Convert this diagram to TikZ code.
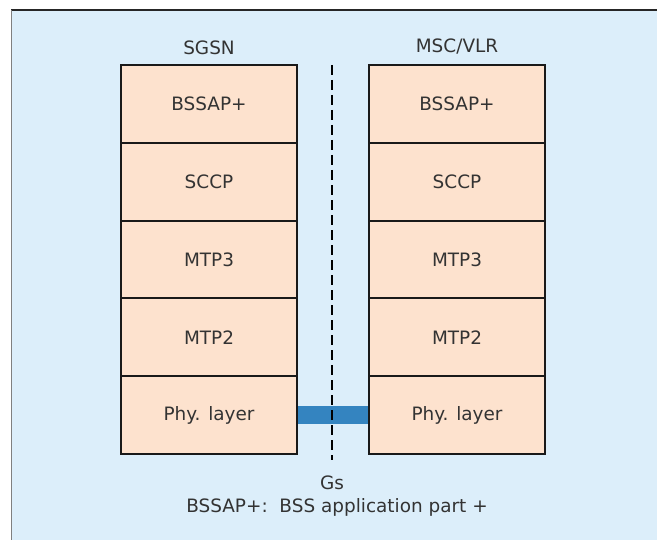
\documentclass[tikz,border=0pt]{standalone}
\usepackage{fontspec}
\setmainfont{DejaVu Sans}
\usetikzlibrary{positioning}
\definecolor{gsback}{RGB}{220,238,250}
\definecolor{layerfill}{RGB}{253,226,206}
\definecolor{gslink}{RGB}{52,132,192}

\begin{document}
\begin{tikzpicture}[x=1bp,y=-1bp,
  every node/.style={font=\fontsize{18.5}{22}\selectfont, text=black!80},
  layer/.style={draw=black!90, line width=2bp, fill=layerfill,
    minimum width=176bp, minimum height=77.8bp, outer sep=0pt},
  gsline/.style={line width=2bp, dash pattern=on 10bp off 5bp},
  gsbar/.style={draw=gslink, line width=18bp},
]
\useasboundingbox (0,0) rectangle (657,540);
\fill[gsback] (11,10) rectangle (657,540);
\draw[line width=1.5bp, black!85] (11,10) -- (657,10);
\draw[line width=1bp, black!50] (11,10) -- (11,540);
% protocol stacks
\foreach \side/\x in {l/209,r/457} {
  \node[layer] (\side1) at (\x,103.9) {BSSAP+};
  \foreach[count=\i from 2, evaluate=\i as \j using int(\i-1)] \name in {SCCP,MTP3,MTP2,Phy. layer}
    \node[layer, below=0pt of \side\j] (\side\i) {\name};
}
\node[above=7bp of l1] (sgsn) {SGSN};
\node[above=7bp of r1] (msc) {MSC/VLR};
% Gs interface
\draw[gsbar, yshift=3bp, shorten <=1bp, shorten >=1bp] (l5.east) -- (r5.west);
\coordinate (gstop) at (332,65);
\coordinate (gsbot) at (332,460);
\draw[gsline] (gstop) -- (gsbot);
\node[below=12bp of gsbot] (gs) {Gs};
\node[below=2bp of gs, xshift=5bp] (note) {BSSAP+:\ \ BSS application part +};
\end{tikzpicture}
\end{document}
